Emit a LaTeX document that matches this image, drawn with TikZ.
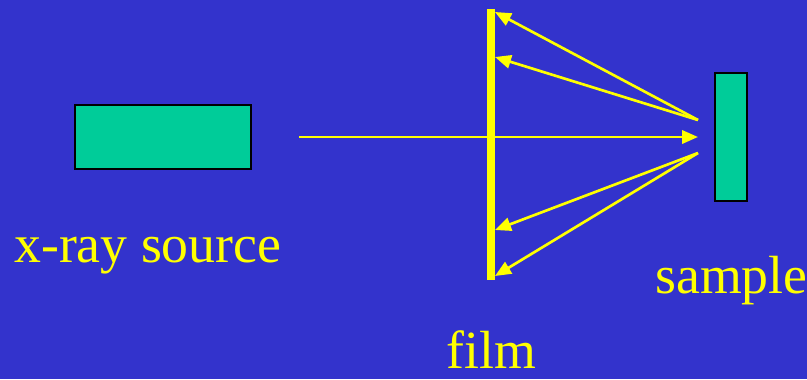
\documentclass[tikz,border=0pt]{standalone}
\usepackage{fontspec}
\setmainfont{Liberation Serif}
\usetikzlibrary{arrows.meta}
\definecolor{bg}{HTML}{3333CC}
\definecolor{ylw}{HTML}{FFFF00}
\definecolor{grn}{HTML}{00CC99}
\begin{document}
\begin{tikzpicture}[x=0.75pt,y=-0.75pt,
  box/.style={draw=black,line width=1.3pt,fill=grn,inner sep=0pt},
  ray/.style={draw=ylw,line width=2pt,-{Triangle[length=12pt,width=10pt]}},
  lbl/.style={text=ylw,font=\fontsize{40.3pt}{44pt}\selectfont,inner sep=0pt,anchor=base west}]
\fill[bg] (0,0) rectangle (807,379);
\useasboundingbox (0,0) rectangle (807,379);
\node[box,minimum width=176*0.75pt,minimum height=64*0.75pt] (src) at (163,137) {};
\node[box,minimum width=32*0.75pt,minimum height=128*0.75pt] (smp) at (731,137) {};
\node[fill=ylw,inner sep=0pt,minimum width=8*0.75pt,minimum height=271*0.75pt] (film) at (491,144.5) {};
\coordinate (b0) at (299,137);
\coordinate (b1) at (698,137);
\coordinate (s1) at (698,120);
\coordinate (s2) at (698,153);
\coordinate (f1) at (495,12);
\coordinate (f2) at (495,57);
\coordinate (f3) at (495,230);
\coordinate (f4) at (495,276);
\draw[ray] (b0) -- (b1);
\draw[ray] (s1) -- (f1);
\draw[ray] (s1) -- (f2);
\draw[ray] (s2) -- (f3);
\draw[ray] (s2) -- (f4);
\node[lbl] (t1) at (14,262) {x-ray source};
\node[lbl] (t2) at (655,293) {sample};
\node[lbl] (t3) at (446,368) {film};
\end{tikzpicture}
\end{document}
